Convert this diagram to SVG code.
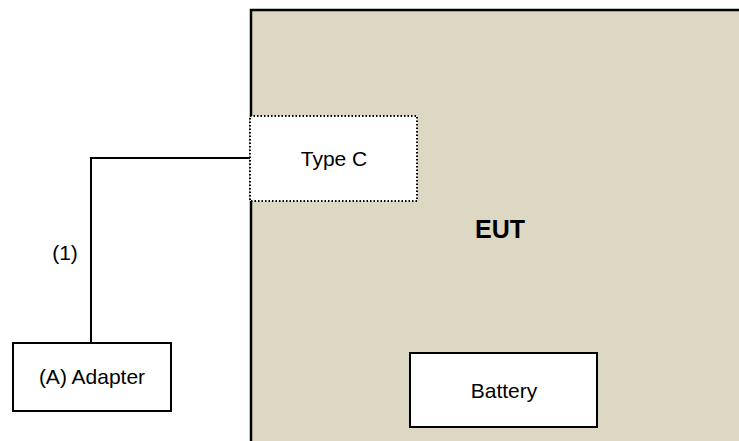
<svg xmlns="http://www.w3.org/2000/svg" width="739" height="441" viewBox="0 0 739 441">
<style>
text{font-family:"Liberation Sans",Arial,sans-serif;font-size:21px;fill:#000}
.box{fill:#fff;stroke:#000;stroke-width:2}
</style>
<rect width="739" height="441" fill="#fff"/>
<g id="eut">
<rect x="251" y="10" width="500" height="440" fill="#DDD8C3" stroke="#000" stroke-width="2.5"/>
<text x="500" y="238" text-anchor="middle" font-weight="bold" style="font-size:25px">EUT</text>
</g>
<g id="connectors">
<polyline points="91,342 91,158 250,158" fill="none" stroke="#000" stroke-width="2"/>
<text x="65" y="260" text-anchor="middle">(1)</text>
</g>
<g id="typec">
<rect x="250" y="116" width="167" height="85" fill="#fff" stroke="#000" stroke-width="2" stroke-dasharray="1.5,2"/>
<text x="334" y="166" text-anchor="middle">Type C</text>
</g>
<g id="adapter">
<rect class="box" x="13" y="343" width="158" height="68"/>
<text x="92" y="384" text-anchor="middle">(A) Adapter</text>
</g>
<g id="battery">
<rect class="box" x="410" y="353" width="187" height="74"/>
<text x="504" y="398" text-anchor="middle">Battery</text>
</g>
</svg>
